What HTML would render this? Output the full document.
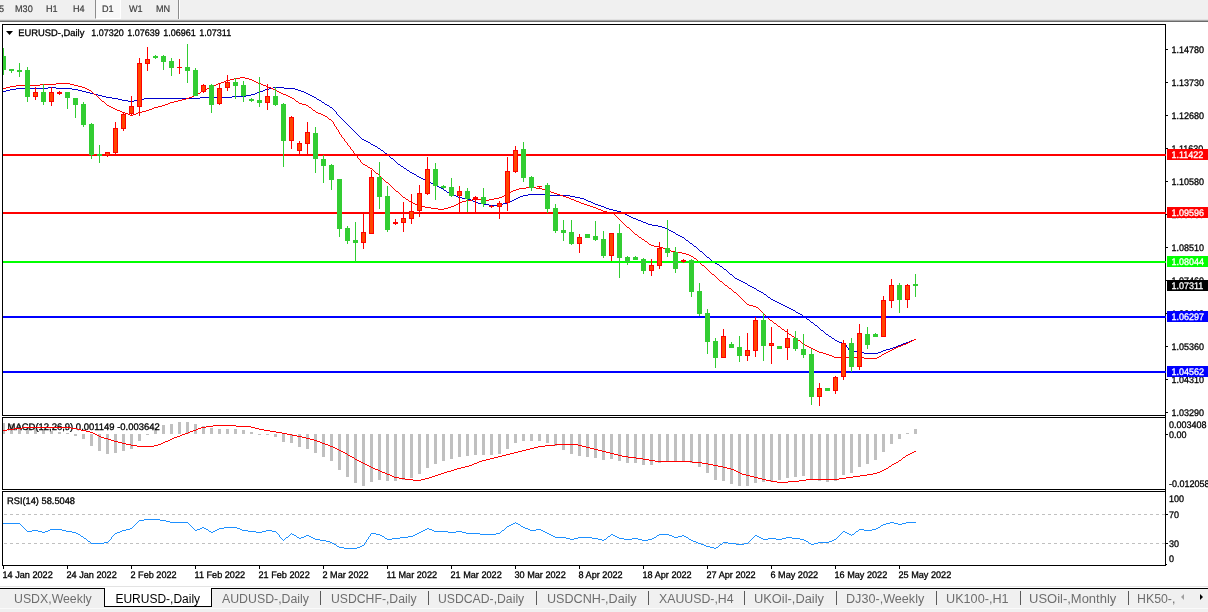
<!DOCTYPE html>
<html><head><meta charset="utf-8"><title>EURUSD-,Daily</title>
<style>
html,body{margin:0;padding:0;background:#fff;}
body{width:1208px;height:612px;overflow:hidden;position:relative;font-family:"Liberation Sans",sans-serif;}
#toolbar{position:absolute;left:0;top:0;width:1208px;height:20px;background:#f0f0f0;}
#toolbar .e0{position:absolute;left:0;top:19px;width:100%;height:1px;background:#e2e2e2;}
#toolbar .e1{position:absolute;left:0;top:20px;width:100%;height:1px;background:#a8a8a8;}
#toolbar .e2{position:absolute;left:0;top:21px;width:100%;height:1px;background:#6a6a6a;}
#toolbar span{position:absolute;top:4px;font-size:9.5px;line-height:11px;color:#404040;white-space:nowrap;transform-origin:0 0;transform:scaleX(0.958);text-rendering:geometricPrecision;-webkit-text-stroke:0.2px #404040;}
#toolbar i{position:absolute;top:0;width:1px;height:19px;background:#8c8c8c;}
#toolbar b{position:absolute;left:95px;top:0;width:24px;height:18px;background:#f8f8f8;border-left:1px solid #8c8c8c;border-right:1px solid #fff;border-bottom:1px solid #fff;box-sizing:content-box;}
svg{position:absolute;left:0;top:0;}
svg text{font-family:"Liberation Sans",sans-serif;stroke:currentColor;stroke-width:0.3px;text-rendering:geometricPrecision;}
#tabs{position:absolute;left:0;top:586px;width:1208px;height:26px;background:#f0f0f0;overflow:hidden;}
#tabs .l0{position:absolute;left:0;top:0;width:100%;height:1px;background:#e3e3e3;}
#tabs .l1{position:absolute;left:0;top:1px;width:100%;height:1px;background:#fff;}
#tabs .l2{position:absolute;left:0;top:2px;width:100%;height:1px;background:#000;}
#tabs .l3{position:absolute;left:0;top:22px;width:100%;height:1px;background:#fafafa;}
.tab{position:absolute;top:6px;font-size:12px;line-height:14px;color:#6e6e6e;white-space:nowrap;transform-origin:0 0;}
.tab.act{color:#000;}
#act{position:absolute;left:104px;top:2px;width:106px;height:18px;background:#fff;border:1px solid #000;border-top:none;}
.sep{position:absolute;top:5px;width:1px;height:14px;background:#5a5a5a;}
.arr{position:absolute;top:8px;width:0;height:0;border-top:3.5px solid transparent;border-bottom:3.5px solid transparent;}
</style></head><body>
<div id="toolbar"><b></b><span style="left:-1.5px">5</span><span style="left:14.6px">M30</span><span style="left:45.5px">H1</span><span style="left:72.8px">H4</span><span style="left:101.5px">D1</span><span style="left:129px">W1</span><span style="left:155.6px">MN</span><i style="left:178px"></i><i style="left:179px;background:#fff"></i><div class="e0"></div><div class="e1"></div><div class="e2"></div></div>
<svg width="1208" height="612" viewBox="0 0 1208 612" shape-rendering="crispEdges">
<rect x="2" y="24" width="1164" height="1" fill="#000"/>
<rect x="2" y="24" width="1" height="392" fill="#000"/>
<rect x="2" y="415" width="1164" height="1" fill="#000"/>
<rect x="1165" y="24" width="1" height="542" fill="#000"/>
<rect x="2" y="417" width="1164" height="1" fill="#000"/>
<rect x="2" y="417" width="1" height="73" fill="#000"/>
<rect x="2" y="489" width="1164" height="1" fill="#000"/>
<rect x="2" y="491" width="1164" height="1" fill="#000"/>
<rect x="2" y="491" width="1" height="75" fill="#000"/>
<rect x="2" y="565" width="1164" height="1" fill="#000"/>
<defs><clipPath id="cm"><rect x="3" y="25" width="1163" height="390"/></clipPath><clipPath id="cd"><rect x="3" y="418" width="1162" height="71"/></clipPath><clipPath id="cr"><rect x="3" y="492" width="1162" height="73"/></clipPath></defs>
<g clip-path="url(#cm)">
<path d="M48 87h8v1h-8zM273 87h11v1h-11zM16 88h32v1h-32zM56 88h16v1h-16zM269 88h4v1h-4zM284 88h11v1h-11zM10 89h6v1h-6zM72 89h6v1h-6zM265 89h4v1h-4zM295 89h3v1h-3zM6 90h4v1h-4zM78 90h4v1h-4zM263 90h2v1h-2zM298 90h3v1h-3zM3 91h3v1h-3zM82 91h4v1h-4zM260 91h3v1h-3zM301 91h3v1h-3zM86 92h4v1h-4zM257 92h3v1h-3zM304 92h2v1h-2zM90 93h4v1h-4zM255 93h2v1h-2zM306 93h2v1h-2zM94 94h4v1h-4zM251 94h4v1h-4zM308 94h2v1h-2zM98 95h4v1h-4zM246 95h5v1h-5zM310 95h2v1h-2zM102 96h4v1h-4zM232 96h14v1h-14zM312 96h2v1h-2zM106 97h6v1h-6zM200 97h32v1h-32zM314 97h2v1h-2zM112 98h6v1h-6zM144 98h56v1h-56zM316 98h1v1h-1zM118 99h4v1h-4zM138 99h6v1h-6zM317 99h2v1h-2zM122 100h6v1h-6zM134 100h4v1h-4zM319 100h2v1h-2zM128 101h6v1h-6zM321 101h1v1h-1zM322 102h2v1h-2zM324 103h1v1h-1zM325 104h2v1h-2zM327 105h2v1h-2zM329 106h1v1h-1zM330 107h2v1h-2zM332 108h1v1h-1zM333 109h1v1h-1zM334 110h1v1h-1zM335 111h1v1h-1zM336 112h1v1h-1zM336 113h1v1h-1zM337 114h1v1h-1zM338 115h1v1h-1zM339 116h1v1h-1zM340 117h1v1h-1zM341 118h1v1h-1zM342 119h1v1h-1zM343 120h1v1h-1zM344 121h1v1h-1zM345 122h1v1h-1zM346 123h1v1h-1zM347 124h1v1h-1zM348 125h1v1h-1zM349 126h1v1h-1zM350 127h1v1h-1zM351 128h1v1h-1zM352 129h1v1h-1zM353 130h1v1h-1zM354 131h1v1h-1zM355 132h1v1h-1zM356 133h1v1h-1zM357 134h1v1h-1zM358 135h1v1h-1zM359 136h1v1h-1zM360 137h1v1h-1zM361 138h1v1h-1zM362 139h2v1h-2zM364 140h2v1h-2zM366 141h2v1h-2zM368 142h2v1h-2zM370 143h1v1h-1zM371 144h2v1h-2zM373 145h2v1h-2zM375 146h2v1h-2zM377 147h1v1h-1zM378 148h2v1h-2zM380 149h1v1h-1zM381 150h2v1h-2zM383 151h1v1h-1zM384 152h1v1h-1zM385 153h2v1h-2zM387 154h1v1h-1zM388 155h1v1h-1zM389 156h1v1h-1zM390 157h1v1h-1zM391 158h2v1h-2zM393 159h1v1h-1zM394 160h1v1h-1zM395 161h1v1h-1zM396 162h1v1h-1zM397 163h1v1h-1zM398 164h2v1h-2zM400 165h1v1h-1zM401 166h2v1h-2zM403 167h1v1h-1zM404 168h2v1h-2zM406 169h1v1h-1zM407 170h2v1h-2zM409 171h1v1h-1zM410 172h2v1h-2zM412 173h2v1h-2zM414 174h2v1h-2zM416 175h1v1h-1zM417 176h2v1h-2zM419 177h2v1h-2zM421 178h2v1h-2zM423 179h2v1h-2zM425 180h2v1h-2zM427 181h2v1h-2zM429 182h2v1h-2zM431 183h2v1h-2zM433 184h2v1h-2zM435 185h2v1h-2zM437 186h2v1h-2zM439 187h2v1h-2zM441 188h2v1h-2zM443 189h1v1h-1zM444 190h2v1h-2zM446 191h1v1h-1zM447 192h2v1h-2zM449 193h2v1h-2zM451 194h2v1h-2zM528 194h21v1h-21zM453 195h3v1h-3zM523 195h5v1h-5zM549 195h21v1h-21zM456 196h2v1h-2zM520 196h3v1h-3zM570 196h5v1h-5zM458 197h4v1h-4zM518 197h2v1h-2zM575 197h5v1h-5zM462 198h5v1h-5zM516 198h2v1h-2zM580 198h4v1h-4zM467 199h4v1h-4zM514 199h2v1h-2zM584 199h2v1h-2zM471 200h2v1h-2zM512 200h2v1h-2zM586 200h2v1h-2zM473 201h3v1h-3zM510 201h2v1h-2zM588 201h3v1h-3zM476 202h2v1h-2zM507 202h3v1h-3zM591 202h2v1h-2zM478 203h5v1h-5zM503 203h4v1h-4zM593 203h2v1h-2zM483 204h6v1h-6zM497 204h6v1h-6zM595 204h3v1h-3zM489 205h8v1h-8zM598 205h3v1h-3zM601 206h3v1h-3zM604 207h2v1h-2zM606 208h3v1h-3zM609 209h4v1h-4zM613 210h4v1h-4zM617 211h4v1h-4zM621 212h2v1h-2zM623 213h2v1h-2zM625 214h2v1h-2zM627 215h2v1h-2zM629 216h2v1h-2zM631 217h2v1h-2zM633 218h3v1h-3zM636 219h2v1h-2zM638 220h3v1h-3zM641 221h2v1h-2zM643 222h3v1h-3zM646 223h2v1h-2zM648 224h4v1h-4zM652 225h6v1h-6zM658 226h4v1h-4zM662 227h3v1h-3zM665 228h2v1h-2zM667 229h2v1h-2zM669 230h2v1h-2zM671 231h2v1h-2zM673 232h2v1h-2zM675 233h1v1h-1zM676 234h2v1h-2zM678 235h2v1h-2zM680 236h2v1h-2zM682 237h2v1h-2zM684 238h1v1h-1zM685 239h1v1h-1zM686 240h2v1h-2zM688 241h1v1h-1zM689 242h1v1h-1zM690 243h2v1h-2zM692 244h1v1h-1zM693 245h1v1h-1zM694 246h2v1h-2zM696 247h1v1h-1zM697 248h1v1h-1zM698 249h1v1h-1zM699 250h1v1h-1zM700 251h2v1h-2zM702 252h1v1h-1zM703 253h1v1h-1zM704 254h1v1h-1zM705 255h1v1h-1zM706 256h1v1h-1zM707 257h2v1h-2zM709 258h1v1h-1zM710 259h1v1h-1zM711 260h1v1h-1zM712 261h2v1h-2zM714 262h1v1h-1zM715 263h2v1h-2zM717 264h2v1h-2zM719 265h1v1h-1zM720 266h2v1h-2zM722 267h1v1h-1zM723 268h1v1h-1zM724 269h2v1h-2zM726 270h1v1h-1zM727 271h1v1h-1zM728 272h1v1h-1zM729 273h1v1h-1zM730 274h2v1h-2zM732 275h1v1h-1zM733 276h1v1h-1zM734 277h1v1h-1zM735 278h2v1h-2zM737 279h2v1h-2zM739 280h2v1h-2zM741 281h2v1h-2zM743 282h2v1h-2zM745 283h2v1h-2zM747 284h1v1h-1zM748 285h2v1h-2zM750 286h2v1h-2zM752 287h2v1h-2zM754 288h2v1h-2zM756 289h1v1h-1zM757 290h2v1h-2zM759 291h2v1h-2zM761 292h2v1h-2zM763 293h1v1h-1zM764 294h2v1h-2zM766 295h1v1h-1zM767 296h1v1h-1zM768 297h2v1h-2zM770 298h1v1h-1zM771 299h2v1h-2zM773 300h2v1h-2zM775 301h2v1h-2zM777 302h2v1h-2zM779 303h2v1h-2zM781 304h2v1h-2zM783 305h2v1h-2zM785 306h2v1h-2zM787 307h2v1h-2zM789 308h2v1h-2zM791 309h2v1h-2zM793 310h2v1h-2zM795 311h1v1h-1zM796 312h2v1h-2zM798 313h2v1h-2zM800 314h2v1h-2zM802 315h1v1h-1zM803 316h2v1h-2zM805 317h1v1h-1zM806 318h1v1h-1zM807 319h2v1h-2zM809 320h1v1h-1zM810 321h1v1h-1zM811 322h2v1h-2zM813 323h1v1h-1zM814 324h1v1h-1zM815 325h2v1h-2zM817 326h1v1h-1zM818 327h1v1h-1zM819 328h1v1h-1zM820 329h1v1h-1zM821 330h2v1h-2zM823 331h1v1h-1zM824 332h1v1h-1zM825 333h1v1h-1zM826 334h2v1h-2zM828 335h1v1h-1zM829 336h2v1h-2zM831 337h1v1h-1zM832 338h2v1h-2zM834 339h1v1h-1zM914 339h2v1h-2zM835 340h2v1h-2zM911 340h3v1h-3zM837 341h2v1h-2zM909 341h2v1h-2zM839 342h3v1h-3zM906 342h3v1h-3zM842 343h2v1h-2zM903 343h3v1h-3zM844 344h2v1h-2zM901 344h2v1h-2zM846 345h1v1h-1zM898 345h3v1h-3zM846 346h1v1h-1zM896 346h2v1h-2zM847 347h1v1h-1zM893 347h3v1h-3zM848 348h1v1h-1zM890 348h3v1h-3zM848 349h1v1h-1zM886 349h4v1h-4zM849 350h2v1h-2zM883 350h3v1h-3zM851 351h10v1h-10zM881 351h2v1h-2zM861 352h3v1h-3zM878 352h3v1h-3zM864 353h14v1h-14z" fill="#0000cd"/>
<path d="M240 77h5v1h-5zM234 78h6v1h-6zM245 78h4v1h-4zM230 79h4v1h-4zM249 79h3v1h-3zM226 80h4v1h-4zM252 80h2v1h-2zM224 81h2v1h-2zM254 81h2v1h-2zM221 82h3v1h-3zM256 82h2v1h-2zM56 83h14v1h-14zM218 83h3v1h-3zM258 83h3v1h-3zM40 84h16v1h-16zM70 84h4v1h-4zM216 84h2v1h-2zM261 84h2v1h-2zM16 85h24v1h-24zM74 85h4v1h-4zM213 85h3v1h-3zM263 85h3v1h-3zM10 86h6v1h-6zM78 86h4v1h-4zM211 86h2v1h-2zM266 86h2v1h-2zM6 87h4v1h-4zM82 87h3v1h-3zM209 87h2v1h-2zM268 87h3v1h-3zM3 88h3v1h-3zM85 88h2v1h-2zM207 88h2v1h-2zM271 88h2v1h-2zM87 89h2v1h-2zM205 89h2v1h-2zM273 89h2v1h-2zM89 90h2v1h-2zM203 90h2v1h-2zM275 90h2v1h-2zM91 91h1v1h-1zM201 91h2v1h-2zM277 91h2v1h-2zM92 92h1v1h-1zM200 92h1v1h-1zM279 92h2v1h-2zM93 93h1v1h-1zM198 93h2v1h-2zM281 93h2v1h-2zM94 94h2v1h-2zM196 94h2v1h-2zM283 94h3v1h-3zM96 95h1v1h-1zM194 95h2v1h-2zM286 95h2v1h-2zM97 96h1v1h-1zM192 96h2v1h-2zM288 96h2v1h-2zM98 97h1v1h-1zM189 97h3v1h-3zM290 97h2v1h-2zM99 98h1v1h-1zM186 98h3v1h-3zM292 98h2v1h-2zM100 99h1v1h-1zM182 99h4v1h-4zM294 99h1v1h-1zM101 100h1v1h-1zM178 100h4v1h-4zM295 100h1v1h-1zM102 101h2v1h-2zM174 101h4v1h-4zM296 101h2v1h-2zM104 102h1v1h-1zM170 102h4v1h-4zM298 102h1v1h-1zM105 103h1v1h-1zM168 103h2v1h-2zM299 103h3v1h-3zM106 104h1v1h-1zM165 104h3v1h-3zM302 104h4v1h-4zM107 105h2v1h-2zM162 105h3v1h-3zM306 105h2v1h-2zM109 106h2v1h-2zM158 106h4v1h-4zM308 106h1v1h-1zM111 107h2v1h-2zM154 107h4v1h-4zM309 107h2v1h-2zM113 108h2v1h-2zM152 108h2v1h-2zM311 108h1v1h-1zM115 109h2v1h-2zM149 109h3v1h-3zM312 109h1v1h-1zM117 110h3v1h-3zM146 110h3v1h-3zM313 110h2v1h-2zM120 111h2v1h-2zM142 111h4v1h-4zM315 111h1v1h-1zM122 112h3v1h-3zM138 112h4v1h-4zM316 112h2v1h-2zM125 113h3v1h-3zM136 113h2v1h-2zM318 113h3v1h-3zM128 114h2v1h-2zM133 114h3v1h-3zM321 114h2v1h-2zM130 115h3v1h-3zM323 115h2v1h-2zM325 116h2v1h-2zM327 117h1v1h-1zM328 118h1v1h-1zM329 119h2v1h-2zM331 120h1v1h-1zM332 121h1v1h-1zM333 122h1v1h-1zM333 123h1v1h-1zM334 124h1v1h-1zM334 125h1v1h-1zM335 126h1v1h-1zM336 127h1v1h-1zM336 128h1v1h-1zM337 129h1v1h-1zM338 130h1v1h-1zM338 131h1v1h-1zM339 132h1v1h-1zM339 133h1v1h-1zM340 134h1v1h-1zM341 135h1v1h-1zM341 136h1v1h-1zM342 137h1v1h-1zM343 138h1v1h-1zM344 139h1v1h-1zM344 140h1v1h-1zM345 141h1v1h-1zM346 142h1v1h-1zM347 143h1v1h-1zM347 144h1v1h-1zM348 145h1v1h-1zM349 146h1v1h-1zM350 147h1v1h-1zM350 148h1v1h-1zM351 149h1v1h-1zM352 150h1v1h-1zM353 151h1v1h-1zM353 152h1v1h-1zM354 153h1v1h-1zM355 154h1v1h-1zM356 155h1v1h-1zM357 156h1v1h-1zM357 157h1v1h-1zM358 158h1v1h-1zM359 159h1v1h-1zM360 160h1v1h-1zM360 161h1v1h-1zM361 162h1v1h-1zM362 163h1v1h-1zM363 164h2v1h-2zM365 165h2v1h-2zM367 166h1v1h-1zM368 167h2v1h-2zM370 168h2v1h-2zM372 169h1v1h-1zM373 170h1v1h-1zM374 171h1v1h-1zM375 172h1v1h-1zM376 173h2v1h-2zM378 174h1v1h-1zM379 175h1v1h-1zM380 176h1v1h-1zM381 177h1v1h-1zM382 178h1v1h-1zM383 179h1v1h-1zM384 180h1v1h-1zM385 181h1v1h-1zM386 182h2v1h-2zM388 183h1v1h-1zM389 184h1v1h-1zM390 185h1v1h-1zM391 186h1v1h-1zM392 187h1v1h-1zM526 187h10v1h-10zM393 188h1v1h-1zM519 188h7v1h-7zM536 188h6v1h-6zM394 189h1v1h-1zM516 189h3v1h-3zM542 189h3v1h-3zM395 190h1v1h-1zM513 190h3v1h-3zM545 190h3v1h-3zM396 191h2v1h-2zM511 191h2v1h-2zM548 191h3v1h-3zM398 192h1v1h-1zM509 192h2v1h-2zM551 192h3v1h-3zM399 193h1v1h-1zM507 193h2v1h-2zM554 193h3v1h-3zM400 194h1v1h-1zM506 194h1v1h-1zM557 194h3v1h-3zM401 195h1v1h-1zM504 195h2v1h-2zM560 195h3v1h-3zM402 196h1v1h-1zM502 196h2v1h-2zM563 196h3v1h-3zM403 197h2v1h-2zM499 197h3v1h-3zM566 197h3v1h-3zM405 198h1v1h-1zM494 198h5v1h-5zM569 198h2v1h-2zM406 199h2v1h-2zM472 199h9v1h-9zM489 199h5v1h-5zM571 199h3v1h-3zM408 200h1v1h-1zM466 200h6v1h-6zM481 200h8v1h-8zM574 200h2v1h-2zM409 201h2v1h-2zM462 201h4v1h-4zM576 201h3v1h-3zM411 202h2v1h-2zM460 202h2v1h-2zM579 202h2v1h-2zM413 203h2v1h-2zM458 203h2v1h-2zM581 203h3v1h-3zM415 204h3v1h-3zM456 204h2v1h-2zM584 204h3v1h-3zM418 205h2v1h-2zM454 205h2v1h-2zM587 205h3v1h-3zM420 206h5v1h-5zM451 206h3v1h-3zM590 206h3v1h-3zM425 207h6v1h-6zM448 207h3v1h-3zM593 207h3v1h-3zM431 208h7v1h-7zM444 208h4v1h-4zM596 208h2v1h-2zM438 209h6v1h-6zM598 209h3v1h-3zM601 210h2v1h-2zM603 211h4v1h-4zM607 212h4v1h-4zM611 213h3v1h-3zM614 214h1v1h-1zM615 215h1v1h-1zM616 216h1v1h-1zM617 217h1v1h-1zM618 218h1v1h-1zM619 219h1v1h-1zM620 220h1v1h-1zM621 221h1v1h-1zM622 222h1v1h-1zM623 223h1v1h-1zM624 224h1v1h-1zM625 225h1v1h-1zM626 226h1v1h-1zM627 227h2v1h-2zM629 228h1v1h-1zM630 229h1v1h-1zM631 230h1v1h-1zM632 231h1v1h-1zM633 232h1v1h-1zM634 233h1v1h-1zM635 234h2v1h-2zM637 235h1v1h-1zM638 236h1v1h-1zM639 237h2v1h-2zM641 238h1v1h-1zM642 239h2v1h-2zM644 240h1v1h-1zM645 241h2v1h-2zM647 242h1v1h-1zM648 243h1v1h-1zM649 244h2v1h-2zM651 245h3v1h-3zM654 246h5v1h-5zM659 247h4v1h-4zM663 248h3v1h-3zM666 249h2v1h-2zM668 250h3v1h-3zM671 251h5v1h-5zM676 252h6v1h-6zM682 253h4v1h-4zM686 254h3v1h-3zM689 255h2v1h-2zM691 256h2v1h-2zM693 257h1v1h-1zM694 258h2v1h-2zM696 259h1v1h-1zM697 260h1v1h-1zM698 261h1v1h-1zM699 262h1v1h-1zM700 263h1v1h-1zM701 264h1v1h-1zM702 265h2v1h-2zM704 266h1v1h-1zM705 267h1v1h-1zM706 268h1v1h-1zM707 269h1v1h-1zM708 270h1v1h-1zM709 271h1v1h-1zM710 272h1v1h-1zM711 273h1v1h-1zM712 274h2v1h-2zM714 275h1v1h-1zM715 276h1v1h-1zM716 277h1v1h-1zM717 278h1v1h-1zM718 279h1v1h-1zM719 280h1v1h-1zM720 281h2v1h-2zM722 282h1v1h-1zM723 283h1v1h-1zM724 284h1v1h-1zM725 285h2v1h-2zM727 286h1v1h-1zM728 287h1v1h-1zM729 288h2v1h-2zM731 289h1v1h-1zM732 290h1v1h-1zM733 291h1v1h-1zM734 292h2v1h-2zM736 293h1v1h-1zM737 294h1v1h-1zM738 295h1v1h-1zM739 296h1v1h-1zM740 297h1v1h-1zM741 298h1v1h-1zM742 299h1v1h-1zM743 300h1v1h-1zM744 301h1v1h-1zM745 302h1v1h-1zM746 303h1v1h-1zM747 304h2v1h-2zM749 305h4v1h-4zM753 306h3v1h-3zM756 307h2v1h-2zM758 308h1v1h-1zM759 309h1v1h-1zM760 310h1v1h-1zM761 311h1v1h-1zM762 312h1v1h-1zM763 313h1v1h-1zM764 314h1v1h-1zM765 315h1v1h-1zM766 316h1v1h-1zM767 317h1v1h-1zM768 318h1v1h-1zM769 319h1v1h-1zM770 320h2v1h-2zM772 321h1v1h-1zM773 322h1v1h-1zM774 323h2v1h-2zM776 324h1v1h-1zM777 325h1v1h-1zM778 326h2v1h-2zM780 327h1v1h-1zM781 328h1v1h-1zM782 329h2v1h-2zM784 330h1v1h-1zM785 331h2v1h-2zM787 332h1v1h-1zM788 333h1v1h-1zM789 334h2v1h-2zM791 335h1v1h-1zM792 336h2v1h-2zM794 337h1v1h-1zM795 338h2v1h-2zM797 339h1v1h-1zM914 339h2v1h-2zM798 340h2v1h-2zM912 340h2v1h-2zM800 341h1v1h-1zM910 341h2v1h-2zM801 342h1v1h-1zM908 342h2v1h-2zM802 343h2v1h-2zM906 343h2v1h-2zM804 344h1v1h-1zM903 344h3v1h-3zM805 345h2v1h-2zM901 345h2v1h-2zM807 346h2v1h-2zM898 346h3v1h-3zM809 347h2v1h-2zM896 347h2v1h-2zM811 348h2v1h-2zM894 348h2v1h-2zM813 349h2v1h-2zM892 349h2v1h-2zM815 350h2v1h-2zM890 350h2v1h-2zM817 351h2v1h-2zM888 351h2v1h-2zM819 352h4v1h-4zM886 352h2v1h-2zM823 353h3v1h-3zM884 353h2v1h-2zM826 354h3v1h-3zM882 354h2v1h-2zM829 355h3v1h-3zM881 355h1v1h-1zM832 356h2v1h-2zM879 356h2v1h-2zM834 357h30v1h-30zM877 357h2v1h-2zM864 358h13v1h-13z" fill="#ff0000"/>
<rect x="3" y="154" width="1163" height="2" fill="#ff0000"/>
<rect x="3" y="212" width="1163" height="2" fill="#ff0000"/>
<rect x="3" y="261" width="1163" height="2" fill="#00ff00"/>
<rect x="3" y="316" width="1163" height="2" fill="#0000ff"/>
<rect x="3" y="371" width="1163" height="2" fill="#0000ff"/>
<rect x="3" y="48" width="1" height="27" fill="#32cd32"/>
<rect x="1" y="56" width="5" height="14" fill="#32cd32"/>
<rect x="11" y="69" width="1" height="4" fill="#32cd32"/>
<rect x="9" y="69" width="5" height="2" fill="#32cd32"/>
<rect x="19" y="63" width="1" height="14" fill="#32cd32"/>
<rect x="17" y="70" width="5" height="2" fill="#32cd32"/>
<rect x="27" y="67" width="1" height="35" fill="#32cd32"/>
<rect x="25" y="70" width="5" height="27" fill="#32cd32"/>
<rect x="35" y="87" width="1" height="13" fill="#ff0000"/>
<rect x="33" y="92" width="5" height="5" fill="#ff0000"/>
<rect x="34" y="93" width="3" height="3" fill="#ff4500"/>
<rect x="43" y="84" width="1" height="21" fill="#32cd32"/>
<rect x="41" y="92" width="5" height="10" fill="#32cd32"/>
<rect x="51" y="87" width="1" height="19" fill="#ff0000"/>
<rect x="49" y="92" width="5" height="10" fill="#ff0000"/>
<rect x="50" y="93" width="3" height="8" fill="#ff4500"/>
<rect x="59" y="91" width="1" height="4" fill="#ff0000"/>
<rect x="57" y="92" width="5" height="2" fill="#ff0000"/>
<rect x="67" y="92" width="1" height="17" fill="#32cd32"/>
<rect x="65" y="92" width="5" height="6" fill="#32cd32"/>
<rect x="75" y="98" width="1" height="20" fill="#32cd32"/>
<rect x="73" y="98" width="5" height="7" fill="#32cd32"/>
<rect x="83" y="102" width="1" height="25" fill="#32cd32"/>
<rect x="81" y="104" width="5" height="21" fill="#32cd32"/>
<rect x="91" y="123" width="1" height="36" fill="#32cd32"/>
<rect x="89" y="124" width="5" height="31" fill="#32cd32"/>
<rect x="99" y="145" width="1" height="18" fill="#32cd32"/>
<rect x="97" y="154" width="5" height="2" fill="#32cd32"/>
<rect x="107" y="152" width="1" height="5" fill="#ff0000"/>
<rect x="105" y="152" width="5" height="4" fill="#ff0000"/>
<rect x="106" y="153" width="3" height="2" fill="#ff4500"/>
<rect x="115" y="122" width="1" height="33" fill="#ff0000"/>
<rect x="113" y="128" width="5" height="25" fill="#ff0000"/>
<rect x="114" y="129" width="3" height="23" fill="#ff4500"/>
<rect x="123" y="112" width="1" height="19" fill="#ff0000"/>
<rect x="121" y="114" width="5" height="15" fill="#ff0000"/>
<rect x="122" y="115" width="3" height="13" fill="#ff4500"/>
<rect x="131" y="96" width="1" height="20" fill="#ff0000"/>
<rect x="129" y="106" width="5" height="8" fill="#ff0000"/>
<rect x="130" y="107" width="3" height="6" fill="#ff4500"/>
<rect x="139" y="58" width="1" height="58" fill="#ff0000"/>
<rect x="137" y="63" width="5" height="44" fill="#ff0000"/>
<rect x="138" y="64" width="3" height="42" fill="#ff4500"/>
<rect x="147" y="47" width="1" height="24" fill="#ff0000"/>
<rect x="145" y="59" width="5" height="5" fill="#ff0000"/>
<rect x="146" y="60" width="3" height="3" fill="#ff4500"/>
<rect x="155" y="55" width="1" height="4" fill="#32cd32"/>
<rect x="153" y="56" width="5" height="2" fill="#32cd32"/>
<rect x="163" y="55" width="1" height="15" fill="#32cd32"/>
<rect x="161" y="56" width="5" height="6" fill="#32cd32"/>
<rect x="171" y="58" width="1" height="18" fill="#32cd32"/>
<rect x="169" y="61" width="5" height="7" fill="#32cd32"/>
<rect x="179" y="59" width="1" height="15" fill="#ff0000"/>
<rect x="177" y="67" width="5" height="1" fill="#ff0000"/>
<rect x="187" y="44" width="1" height="39" fill="#32cd32"/>
<rect x="185" y="67" width="5" height="4" fill="#32cd32"/>
<rect x="195" y="68" width="1" height="28" fill="#32cd32"/>
<rect x="193" y="70" width="5" height="26" fill="#32cd32"/>
<rect x="203" y="84" width="1" height="9" fill="#ff0000"/>
<rect x="201" y="85" width="5" height="7" fill="#ff0000"/>
<rect x="202" y="86" width="3" height="5" fill="#ff4500"/>
<rect x="211" y="84" width="1" height="29" fill="#32cd32"/>
<rect x="209" y="85" width="5" height="20" fill="#32cd32"/>
<rect x="219" y="84" width="1" height="21" fill="#ff0000"/>
<rect x="217" y="88" width="5" height="16" fill="#ff0000"/>
<rect x="218" y="89" width="3" height="14" fill="#ff4500"/>
<rect x="227" y="75" width="1" height="16" fill="#ff0000"/>
<rect x="225" y="82" width="5" height="6" fill="#ff0000"/>
<rect x="226" y="83" width="3" height="4" fill="#ff4500"/>
<rect x="235" y="78" width="1" height="21" fill="#32cd32"/>
<rect x="233" y="82" width="5" height="4" fill="#32cd32"/>
<rect x="243" y="81" width="1" height="21" fill="#32cd32"/>
<rect x="241" y="85" width="5" height="11" fill="#32cd32"/>
<rect x="251" y="98" width="1" height="4" fill="#32cd32"/>
<rect x="249" y="99" width="5" height="2" fill="#32cd32"/>
<rect x="259" y="77" width="1" height="30" fill="#32cd32"/>
<rect x="257" y="100" width="5" height="3" fill="#32cd32"/>
<rect x="267" y="84" width="1" height="26" fill="#ff0000"/>
<rect x="265" y="96" width="5" height="7" fill="#ff0000"/>
<rect x="266" y="97" width="3" height="5" fill="#ff4500"/>
<rect x="275" y="87" width="1" height="19" fill="#32cd32"/>
<rect x="273" y="96" width="5" height="9" fill="#32cd32"/>
<rect x="283" y="103" width="1" height="64" fill="#32cd32"/>
<rect x="281" y="104" width="5" height="37" fill="#32cd32"/>
<rect x="291" y="116" width="1" height="33" fill="#ff0000"/>
<rect x="289" y="117" width="5" height="24" fill="#ff0000"/>
<rect x="290" y="118" width="3" height="22" fill="#ff4500"/>
<rect x="299" y="141" width="1" height="13" fill="#ff0000"/>
<rect x="297" y="143" width="5" height="8" fill="#ff0000"/>
<rect x="298" y="144" width="3" height="6" fill="#ff4500"/>
<rect x="307" y="122" width="1" height="32" fill="#ff0000"/>
<rect x="305" y="132" width="5" height="12" fill="#ff0000"/>
<rect x="306" y="133" width="3" height="10" fill="#ff4500"/>
<rect x="315" y="127" width="1" height="46" fill="#32cd32"/>
<rect x="313" y="133" width="5" height="26" fill="#32cd32"/>
<rect x="323" y="155" width="1" height="28" fill="#32cd32"/>
<rect x="321" y="159" width="5" height="7" fill="#32cd32"/>
<rect x="331" y="164" width="1" height="26" fill="#32cd32"/>
<rect x="329" y="165" width="5" height="15" fill="#32cd32"/>
<rect x="339" y="179" width="1" height="58" fill="#32cd32"/>
<rect x="337" y="179" width="5" height="50" fill="#32cd32"/>
<rect x="347" y="226" width="1" height="18" fill="#32cd32"/>
<rect x="345" y="228" width="5" height="13" fill="#32cd32"/>
<rect x="355" y="222" width="1" height="40" fill="#32cd32"/>
<rect x="353" y="240" width="5" height="3" fill="#32cd32"/>
<rect x="363" y="213" width="1" height="36" fill="#ff0000"/>
<rect x="361" y="232" width="5" height="11" fill="#ff0000"/>
<rect x="362" y="233" width="3" height="9" fill="#ff4500"/>
<rect x="371" y="170" width="1" height="64" fill="#ff0000"/>
<rect x="369" y="177" width="5" height="57" fill="#ff0000"/>
<rect x="370" y="178" width="3" height="55" fill="#ff4500"/>
<rect x="379" y="162" width="1" height="47" fill="#32cd32"/>
<rect x="377" y="177" width="5" height="20" fill="#32cd32"/>
<rect x="387" y="186" width="1" height="46" fill="#32cd32"/>
<rect x="385" y="196" width="5" height="34" fill="#32cd32"/>
<rect x="395" y="219" width="1" height="6" fill="#ff0000"/>
<rect x="393" y="222" width="5" height="2" fill="#ff0000"/>
<rect x="403" y="202" width="1" height="30" fill="#ff0000"/>
<rect x="401" y="218" width="5" height="5" fill="#ff0000"/>
<rect x="402" y="219" width="3" height="3" fill="#ff4500"/>
<rect x="411" y="194" width="1" height="30" fill="#ff0000"/>
<rect x="409" y="211" width="5" height="8" fill="#ff0000"/>
<rect x="410" y="212" width="3" height="6" fill="#ff4500"/>
<rect x="419" y="185" width="1" height="32" fill="#ff0000"/>
<rect x="417" y="193" width="5" height="18" fill="#ff0000"/>
<rect x="418" y="194" width="3" height="16" fill="#ff4500"/>
<rect x="427" y="157" width="1" height="38" fill="#ff0000"/>
<rect x="425" y="169" width="5" height="25" fill="#ff0000"/>
<rect x="426" y="170" width="3" height="23" fill="#ff4500"/>
<rect x="435" y="163" width="1" height="37" fill="#32cd32"/>
<rect x="433" y="169" width="5" height="17" fill="#32cd32"/>
<rect x="443" y="185" width="1" height="4" fill="#32cd32"/>
<rect x="441" y="186" width="5" height="2" fill="#32cd32"/>
<rect x="451" y="178" width="1" height="19" fill="#32cd32"/>
<rect x="449" y="187" width="5" height="9" fill="#32cd32"/>
<rect x="459" y="186" width="1" height="26" fill="#ff0000"/>
<rect x="457" y="191" width="5" height="5" fill="#ff0000"/>
<rect x="458" y="192" width="3" height="3" fill="#ff4500"/>
<rect x="467" y="188" width="1" height="24" fill="#32cd32"/>
<rect x="465" y="191" width="5" height="8" fill="#32cd32"/>
<rect x="475" y="196" width="1" height="16" fill="#ff0000"/>
<rect x="473" y="197" width="5" height="2" fill="#ff0000"/>
<rect x="483" y="188" width="1" height="19" fill="#32cd32"/>
<rect x="481" y="197" width="5" height="7" fill="#32cd32"/>
<rect x="491" y="205" width="1" height="3" fill="#ff0000"/>
<rect x="489" y="206" width="5" height="1" fill="#ff0000"/>
<rect x="499" y="201" width="1" height="18" fill="#ff0000"/>
<rect x="497" y="203" width="5" height="4" fill="#ff0000"/>
<rect x="498" y="204" width="3" height="2" fill="#ff4500"/>
<rect x="507" y="157" width="1" height="54" fill="#ff0000"/>
<rect x="505" y="171" width="5" height="32" fill="#ff0000"/>
<rect x="506" y="172" width="3" height="30" fill="#ff4500"/>
<rect x="515" y="146" width="1" height="27" fill="#ff0000"/>
<rect x="513" y="150" width="5" height="22" fill="#ff0000"/>
<rect x="514" y="151" width="3" height="20" fill="#ff4500"/>
<rect x="523" y="142" width="1" height="40" fill="#32cd32"/>
<rect x="521" y="149" width="5" height="29" fill="#32cd32"/>
<rect x="531" y="176" width="1" height="15" fill="#32cd32"/>
<rect x="529" y="177" width="5" height="11" fill="#32cd32"/>
<rect x="539" y="186" width="1" height="2" fill="#ff0000"/>
<rect x="537" y="186" width="5" height="1" fill="#ff0000"/>
<rect x="547" y="183" width="1" height="30" fill="#32cd32"/>
<rect x="545" y="185" width="5" height="24" fill="#32cd32"/>
<rect x="555" y="204" width="1" height="29" fill="#32cd32"/>
<rect x="553" y="208" width="5" height="23" fill="#32cd32"/>
<rect x="563" y="220" width="1" height="21" fill="#32cd32"/>
<rect x="561" y="230" width="5" height="3" fill="#32cd32"/>
<rect x="571" y="220" width="1" height="25" fill="#32cd32"/>
<rect x="569" y="232" width="5" height="12" fill="#32cd32"/>
<rect x="579" y="234" width="1" height="19" fill="#ff0000"/>
<rect x="577" y="237" width="5" height="7" fill="#ff0000"/>
<rect x="578" y="238" width="3" height="5" fill="#ff4500"/>
<rect x="587" y="234" width="1" height="4" fill="#32cd32"/>
<rect x="585" y="234" width="5" height="4" fill="#32cd32"/>
<rect x="595" y="221" width="1" height="20" fill="#32cd32"/>
<rect x="593" y="236" width="5" height="4" fill="#32cd32"/>
<rect x="603" y="231" width="1" height="27" fill="#32cd32"/>
<rect x="601" y="239" width="5" height="17" fill="#32cd32"/>
<rect x="611" y="233" width="1" height="28" fill="#ff0000"/>
<rect x="609" y="233" width="5" height="23" fill="#ff0000"/>
<rect x="610" y="234" width="3" height="21" fill="#ff4500"/>
<rect x="619" y="224" width="1" height="54" fill="#32cd32"/>
<rect x="617" y="233" width="5" height="25" fill="#32cd32"/>
<rect x="627" y="256" width="1" height="9" fill="#32cd32"/>
<rect x="625" y="257" width="5" height="5" fill="#32cd32"/>
<rect x="635" y="256" width="1" height="4" fill="#32cd32"/>
<rect x="633" y="257" width="5" height="3" fill="#32cd32"/>
<rect x="643" y="258" width="1" height="16" fill="#32cd32"/>
<rect x="641" y="259" width="5" height="12" fill="#32cd32"/>
<rect x="651" y="259" width="1" height="17" fill="#ff0000"/>
<rect x="649" y="265" width="5" height="6" fill="#ff0000"/>
<rect x="650" y="266" width="3" height="4" fill="#ff4500"/>
<rect x="659" y="242" width="1" height="27" fill="#ff0000"/>
<rect x="657" y="248" width="5" height="18" fill="#ff0000"/>
<rect x="658" y="249" width="3" height="16" fill="#ff4500"/>
<rect x="667" y="220" width="1" height="37" fill="#32cd32"/>
<rect x="665" y="248" width="5" height="5" fill="#32cd32"/>
<rect x="675" y="247" width="1" height="26" fill="#32cd32"/>
<rect x="673" y="252" width="5" height="17" fill="#32cd32"/>
<rect x="683" y="259" width="1" height="4" fill="#ff0000"/>
<rect x="681" y="260" width="5" height="2" fill="#ff0000"/>
<rect x="691" y="259" width="1" height="38" fill="#32cd32"/>
<rect x="689" y="260" width="5" height="32" fill="#32cd32"/>
<rect x="699" y="283" width="1" height="33" fill="#32cd32"/>
<rect x="697" y="291" width="5" height="23" fill="#32cd32"/>
<rect x="707" y="309" width="1" height="45" fill="#32cd32"/>
<rect x="705" y="313" width="5" height="29" fill="#32cd32"/>
<rect x="715" y="338" width="1" height="30" fill="#32cd32"/>
<rect x="713" y="341" width="5" height="17" fill="#32cd32"/>
<rect x="723" y="329" width="1" height="29" fill="#ff0000"/>
<rect x="721" y="336" width="5" height="22" fill="#ff0000"/>
<rect x="722" y="337" width="3" height="20" fill="#ff4500"/>
<rect x="731" y="342" width="1" height="6" fill="#32cd32"/>
<rect x="729" y="344" width="5" height="4" fill="#32cd32"/>
<rect x="739" y="336" width="1" height="26" fill="#32cd32"/>
<rect x="737" y="347" width="5" height="9" fill="#32cd32"/>
<rect x="747" y="333" width="1" height="28" fill="#ff0000"/>
<rect x="745" y="350" width="5" height="6" fill="#ff0000"/>
<rect x="746" y="351" width="3" height="4" fill="#ff4500"/>
<rect x="755" y="317" width="1" height="40" fill="#ff0000"/>
<rect x="753" y="320" width="5" height="31" fill="#ff0000"/>
<rect x="754" y="321" width="3" height="29" fill="#ff4500"/>
<rect x="763" y="313" width="1" height="48" fill="#32cd32"/>
<rect x="761" y="320" width="5" height="26" fill="#32cd32"/>
<rect x="771" y="327" width="1" height="37" fill="#ff0000"/>
<rect x="769" y="343" width="5" height="3" fill="#ff0000"/>
<rect x="770" y="344" width="3" height="1" fill="#ff4500"/>
<rect x="779" y="346" width="1" height="3" fill="#32cd32"/>
<rect x="777" y="346" width="5" height="3" fill="#32cd32"/>
<rect x="787" y="329" width="1" height="31" fill="#ff0000"/>
<rect x="785" y="338" width="5" height="10" fill="#ff0000"/>
<rect x="786" y="339" width="3" height="8" fill="#ff4500"/>
<rect x="795" y="331" width="1" height="20" fill="#32cd32"/>
<rect x="793" y="338" width="5" height="11" fill="#32cd32"/>
<rect x="803" y="334" width="1" height="24" fill="#32cd32"/>
<rect x="801" y="349" width="5" height="6" fill="#32cd32"/>
<rect x="811" y="349" width="1" height="56" fill="#32cd32"/>
<rect x="809" y="354" width="5" height="43" fill="#32cd32"/>
<rect x="819" y="383" width="1" height="23" fill="#ff0000"/>
<rect x="817" y="388" width="5" height="9" fill="#ff0000"/>
<rect x="818" y="389" width="3" height="7" fill="#ff4500"/>
<rect x="827" y="388" width="1" height="3" fill="#32cd32"/>
<rect x="825" y="388" width="5" height="3" fill="#32cd32"/>
<rect x="835" y="376" width="1" height="18" fill="#ff0000"/>
<rect x="833" y="377" width="5" height="14" fill="#ff0000"/>
<rect x="834" y="378" width="3" height="12" fill="#ff4500"/>
<rect x="843" y="340" width="1" height="40" fill="#ff0000"/>
<rect x="841" y="343" width="5" height="34" fill="#ff0000"/>
<rect x="842" y="344" width="3" height="32" fill="#ff4500"/>
<rect x="851" y="338" width="1" height="34" fill="#32cd32"/>
<rect x="849" y="343" width="5" height="24" fill="#32cd32"/>
<rect x="859" y="324" width="1" height="46" fill="#ff0000"/>
<rect x="857" y="333" width="5" height="34" fill="#ff0000"/>
<rect x="858" y="334" width="3" height="32" fill="#ff4500"/>
<rect x="867" y="327" width="1" height="22" fill="#32cd32"/>
<rect x="865" y="334" width="5" height="11" fill="#32cd32"/>
<rect x="875" y="333" width="1" height="4" fill="#32cd32"/>
<rect x="873" y="334" width="5" height="3" fill="#32cd32"/>
<rect x="883" y="296" width="1" height="41" fill="#ff0000"/>
<rect x="881" y="300" width="5" height="37" fill="#ff0000"/>
<rect x="882" y="301" width="3" height="35" fill="#ff4500"/>
<rect x="891" y="279" width="1" height="29" fill="#ff0000"/>
<rect x="889" y="285" width="5" height="16" fill="#ff0000"/>
<rect x="890" y="286" width="3" height="14" fill="#ff4500"/>
<rect x="899" y="283" width="1" height="30" fill="#32cd32"/>
<rect x="897" y="285" width="5" height="15" fill="#32cd32"/>
<rect x="907" y="284" width="1" height="24" fill="#ff0000"/>
<rect x="905" y="285" width="5" height="15" fill="#ff0000"/>
<rect x="906" y="286" width="3" height="13" fill="#ff4500"/>
<rect x="915" y="274" width="1" height="23" fill="#32cd32"/>
<rect x="913" y="284" width="5" height="2" fill="#32cd32"/>
</g>
<g clip-path="url(#cd)">
<rect x="2" y="423" width="3" height="11" fill="#c0c0c0"/>
<rect x="10" y="424" width="3" height="10" fill="#c0c0c0"/>
<rect x="18" y="425" width="3" height="9" fill="#c0c0c0"/>
<rect x="26" y="427" width="3" height="7" fill="#c0c0c0"/>
<rect x="34" y="428" width="3" height="6" fill="#c0c0c0"/>
<rect x="42" y="430" width="3" height="4" fill="#c0c0c0"/>
<rect x="50" y="431" width="3" height="3" fill="#c0c0c0"/>
<rect x="58" y="432" width="3" height="2" fill="#c0c0c0"/>
<rect x="66" y="433" width="3" height="1" fill="#c0c0c0"/>
<rect x="74" y="434" width="3" height="2" fill="#c0c0c0"/>
<rect x="82" y="434" width="3" height="5" fill="#c0c0c0"/>
<rect x="90" y="434" width="3" height="12" fill="#c0c0c0"/>
<rect x="98" y="434" width="3" height="17" fill="#c0c0c0"/>
<rect x="106" y="434" width="3" height="20" fill="#c0c0c0"/>
<rect x="114" y="434" width="3" height="19" fill="#c0c0c0"/>
<rect x="122" y="434" width="3" height="17" fill="#c0c0c0"/>
<rect x="130" y="434" width="3" height="15" fill="#c0c0c0"/>
<rect x="138" y="434" width="3" height="7" fill="#c0c0c0"/>
<rect x="146" y="434" width="3" height="1" fill="#c0c0c0"/>
<rect x="154" y="429" width="3" height="5" fill="#c0c0c0"/>
<rect x="162" y="425" width="3" height="9" fill="#c0c0c0"/>
<rect x="170" y="424" width="3" height="10" fill="#c0c0c0"/>
<rect x="178" y="422" width="3" height="12" fill="#c0c0c0"/>
<rect x="186" y="422" width="3" height="12" fill="#c0c0c0"/>
<rect x="194" y="424" width="3" height="10" fill="#c0c0c0"/>
<rect x="202" y="426" width="3" height="8" fill="#c0c0c0"/>
<rect x="210" y="428" width="3" height="6" fill="#c0c0c0"/>
<rect x="218" y="429" width="3" height="5" fill="#c0c0c0"/>
<rect x="226" y="429" width="3" height="5" fill="#c0c0c0"/>
<rect x="234" y="429" width="3" height="5" fill="#c0c0c0"/>
<rect x="242" y="430" width="3" height="4" fill="#c0c0c0"/>
<rect x="250" y="432" width="3" height="2" fill="#c0c0c0"/>
<rect x="258" y="434" width="3" height="1" fill="#c0c0c0"/>
<rect x="266" y="434" width="3" height="1" fill="#c0c0c0"/>
<rect x="274" y="434" width="3" height="3" fill="#c0c0c0"/>
<rect x="282" y="434" width="3" height="8" fill="#c0c0c0"/>
<rect x="290" y="434" width="3" height="9" fill="#c0c0c0"/>
<rect x="298" y="434" width="3" height="13" fill="#c0c0c0"/>
<rect x="306" y="434" width="3" height="15" fill="#c0c0c0"/>
<rect x="314" y="434" width="3" height="19" fill="#c0c0c0"/>
<rect x="322" y="434" width="3" height="23" fill="#c0c0c0"/>
<rect x="330" y="434" width="3" height="27" fill="#c0c0c0"/>
<rect x="338" y="434" width="3" height="36" fill="#c0c0c0"/>
<rect x="346" y="434" width="3" height="43" fill="#c0c0c0"/>
<rect x="354" y="434" width="3" height="49" fill="#c0c0c0"/>
<rect x="362" y="434" width="3" height="52" fill="#c0c0c0"/>
<rect x="370" y="434" width="3" height="48" fill="#c0c0c0"/>
<rect x="378" y="434" width="3" height="46" fill="#c0c0c0"/>
<rect x="386" y="434" width="3" height="47" fill="#c0c0c0"/>
<rect x="394" y="434" width="3" height="47" fill="#c0c0c0"/>
<rect x="402" y="434" width="3" height="46" fill="#c0c0c0"/>
<rect x="410" y="434" width="3" height="44" fill="#c0c0c0"/>
<rect x="418" y="434" width="3" height="40" fill="#c0c0c0"/>
<rect x="426" y="434" width="3" height="34" fill="#c0c0c0"/>
<rect x="434" y="434" width="3" height="30" fill="#c0c0c0"/>
<rect x="442" y="434" width="3" height="27" fill="#c0c0c0"/>
<rect x="450" y="434" width="3" height="25" fill="#c0c0c0"/>
<rect x="458" y="434" width="3" height="23" fill="#c0c0c0"/>
<rect x="466" y="434" width="3" height="22" fill="#c0c0c0"/>
<rect x="474" y="434" width="3" height="21" fill="#c0c0c0"/>
<rect x="482" y="434" width="3" height="21" fill="#c0c0c0"/>
<rect x="490" y="434" width="3" height="21" fill="#c0c0c0"/>
<rect x="498" y="434" width="3" height="20" fill="#c0c0c0"/>
<rect x="506" y="434" width="3" height="15" fill="#c0c0c0"/>
<rect x="514" y="434" width="3" height="9" fill="#c0c0c0"/>
<rect x="522" y="434" width="3" height="7" fill="#c0c0c0"/>
<rect x="530" y="434" width="3" height="7" fill="#c0c0c0"/>
<rect x="538" y="434" width="3" height="7" fill="#c0c0c0"/>
<rect x="546" y="434" width="3" height="9" fill="#c0c0c0"/>
<rect x="554" y="434" width="3" height="12" fill="#c0c0c0"/>
<rect x="562" y="434" width="3" height="16" fill="#c0c0c0"/>
<rect x="570" y="434" width="3" height="20" fill="#c0c0c0"/>
<rect x="578" y="434" width="3" height="22" fill="#c0c0c0"/>
<rect x="586" y="434" width="3" height="23" fill="#c0c0c0"/>
<rect x="594" y="434" width="3" height="24" fill="#c0c0c0"/>
<rect x="602" y="434" width="3" height="26" fill="#c0c0c0"/>
<rect x="610" y="434" width="3" height="25" fill="#c0c0c0"/>
<rect x="618" y="434" width="3" height="27" fill="#c0c0c0"/>
<rect x="626" y="434" width="3" height="29" fill="#c0c0c0"/>
<rect x="634" y="434" width="3" height="29" fill="#c0c0c0"/>
<rect x="642" y="434" width="3" height="31" fill="#c0c0c0"/>
<rect x="650" y="434" width="3" height="31" fill="#c0c0c0"/>
<rect x="658" y="434" width="3" height="29" fill="#c0c0c0"/>
<rect x="666" y="434" width="3" height="28" fill="#c0c0c0"/>
<rect x="674" y="434" width="3" height="28" fill="#c0c0c0"/>
<rect x="682" y="434" width="3" height="28" fill="#c0c0c0"/>
<rect x="690" y="434" width="3" height="29" fill="#c0c0c0"/>
<rect x="698" y="434" width="3" height="33" fill="#c0c0c0"/>
<rect x="706" y="434" width="3" height="39" fill="#c0c0c0"/>
<rect x="714" y="434" width="3" height="46" fill="#c0c0c0"/>
<rect x="722" y="434" width="3" height="47" fill="#c0c0c0"/>
<rect x="730" y="434" width="3" height="50" fill="#c0c0c0"/>
<rect x="738" y="434" width="3" height="52" fill="#c0c0c0"/>
<rect x="746" y="434" width="3" height="52" fill="#c0c0c0"/>
<rect x="754" y="434" width="3" height="49" fill="#c0c0c0"/>
<rect x="762" y="434" width="3" height="48" fill="#c0c0c0"/>
<rect x="770" y="434" width="3" height="48" fill="#c0c0c0"/>
<rect x="778" y="434" width="3" height="46" fill="#c0c0c0"/>
<rect x="786" y="434" width="3" height="44" fill="#c0c0c0"/>
<rect x="794" y="434" width="3" height="43" fill="#c0c0c0"/>
<rect x="802" y="434" width="3" height="42" fill="#c0c0c0"/>
<rect x="810" y="434" width="3" height="46" fill="#c0c0c0"/>
<rect x="818" y="434" width="3" height="47" fill="#c0c0c0"/>
<rect x="826" y="434" width="3" height="48" fill="#c0c0c0"/>
<rect x="834" y="434" width="3" height="47" fill="#c0c0c0"/>
<rect x="842" y="434" width="3" height="41" fill="#c0c0c0"/>
<rect x="850" y="434" width="3" height="39" fill="#c0c0c0"/>
<rect x="858" y="434" width="3" height="33" fill="#c0c0c0"/>
<rect x="866" y="434" width="3" height="30" fill="#c0c0c0"/>
<rect x="874" y="434" width="3" height="26" fill="#c0c0c0"/>
<rect x="882" y="434" width="3" height="18" fill="#c0c0c0"/>
<rect x="890" y="434" width="3" height="10" fill="#c0c0c0"/>
<rect x="898" y="434" width="3" height="5" fill="#c0c0c0"/>
<rect x="906" y="433" width="3" height="1" fill="#c0c0c0"/>
<rect x="914" y="429" width="3" height="5" fill="#c0c0c0"/>
<text transform="translate(7.6 430.3) scale(0.9947 1)" font-size="9.5" fill="#000" color="#000">MACD(12,26,9) 0.001149 -0.003642</text>
<path d="M213 425h23v1h-23zM206 426h7v1h-7zM236 426h15v1h-15zM22 427h49v1h-49zM201 427h5v1h-5zM251 427h4v1h-4zM14 428h8v1h-8zM71 428h6v1h-6zM198 428h3v1h-3zM255 428h4v1h-4zM7 429h7v1h-7zM77 429h4v1h-4zM196 429h2v1h-2zM259 429h5v1h-5zM3 430h4v1h-4zM81 430h5v1h-5zM193 430h3v1h-3zM264 430h6v1h-6zM86 431h4v1h-4zM190 431h3v1h-3zM270 431h6v1h-6zM90 432h3v1h-3zM188 432h2v1h-2zM276 432h6v1h-6zM93 433h2v1h-2zM185 433h3v1h-3zM282 433h5v1h-5zM95 434h2v1h-2zM182 434h3v1h-3zM287 434h5v1h-5zM97 435h2v1h-2zM180 435h2v1h-2zM292 435h5v1h-5zM99 436h2v1h-2zM177 436h3v1h-3zM297 436h5v1h-5zM101 437h3v1h-3zM174 437h3v1h-3zM302 437h4v1h-4zM104 438h4v1h-4zM172 438h2v1h-2zM306 438h4v1h-4zM108 439h3v1h-3zM170 439h2v1h-2zM310 439h4v1h-4zM111 440h3v1h-3zM168 440h2v1h-2zM314 440h3v1h-3zM114 441h4v1h-4zM165 441h3v1h-3zM317 441h3v1h-3zM118 442h4v1h-4zM163 442h2v1h-2zM320 442h2v1h-2zM122 443h4v1h-4zM161 443h2v1h-2zM322 443h3v1h-3zM126 444h5v1h-5zM158 444h3v1h-3zM325 444h3v1h-3zM555 444h23v1h-23zM131 445h6v1h-6zM154 445h4v1h-4zM328 445h2v1h-2zM545 445h10v1h-10zM578 445h4v1h-4zM137 446h17v1h-17zM330 446h3v1h-3zM538 446h7v1h-7zM582 446h4v1h-4zM333 447h2v1h-2zM534 447h4v1h-4zM586 447h4v1h-4zM335 448h2v1h-2zM530 448h4v1h-4zM590 448h4v1h-4zM337 449h2v1h-2zM526 449h4v1h-4zM594 449h4v1h-4zM339 450h2v1h-2zM522 450h4v1h-4zM598 450h4v1h-4zM341 451h2v1h-2zM518 451h4v1h-4zM602 451h4v1h-4zM914 451h2v1h-2zM343 452h2v1h-2zM514 452h4v1h-4zM606 452h4v1h-4zM912 452h2v1h-2zM345 453h2v1h-2zM510 453h4v1h-4zM610 453h4v1h-4zM910 453h2v1h-2zM347 454h1v1h-1zM506 454h4v1h-4zM614 454h4v1h-4zM908 454h2v1h-2zM348 455h2v1h-2zM502 455h4v1h-4zM618 455h4v1h-4zM906 455h2v1h-2zM350 456h2v1h-2zM498 456h4v1h-4zM622 456h6v1h-6zM905 456h1v1h-1zM352 457h2v1h-2zM494 457h4v1h-4zM628 457h8v1h-8zM903 457h2v1h-2zM354 458h1v1h-1zM490 458h4v1h-4zM636 458h7v1h-7zM902 458h1v1h-1zM355 459h2v1h-2zM486 459h4v1h-4zM643 459h6v1h-6zM901 459h1v1h-1zM357 460h2v1h-2zM482 460h4v1h-4zM649 460h6v1h-6zM899 460h2v1h-2zM359 461h2v1h-2zM479 461h3v1h-3zM655 461h37v1h-37zM898 461h1v1h-1zM361 462h2v1h-2zM477 462h2v1h-2zM692 462h10v1h-10zM896 462h2v1h-2zM363 463h2v1h-2zM474 463h3v1h-3zM702 463h6v1h-6zM894 463h2v1h-2zM365 464h2v1h-2zM472 464h2v1h-2zM708 464h5v1h-5zM892 464h2v1h-2zM367 465h2v1h-2zM469 465h3v1h-3zM713 465h5v1h-5zM891 465h1v1h-1zM369 466h2v1h-2zM465 466h4v1h-4zM718 466h5v1h-5zM889 466h2v1h-2zM371 467h2v1h-2zM461 467h4v1h-4zM723 467h4v1h-4zM888 467h1v1h-1zM373 468h2v1h-2zM457 468h4v1h-4zM727 468h4v1h-4zM886 468h2v1h-2zM375 469h3v1h-3zM454 469h3v1h-3zM731 469h3v1h-3zM884 469h2v1h-2zM378 470h2v1h-2zM451 470h3v1h-3zM734 470h2v1h-2zM882 470h2v1h-2zM380 471h2v1h-2zM447 471h4v1h-4zM736 471h2v1h-2zM880 471h2v1h-2zM382 472h3v1h-3zM444 472h3v1h-3zM738 472h2v1h-2zM877 472h3v1h-3zM385 473h2v1h-2zM441 473h3v1h-3zM740 473h2v1h-2zM873 473h4v1h-4zM387 474h3v1h-3zM438 474h3v1h-3zM742 474h4v1h-4zM867 474h6v1h-6zM390 475h2v1h-2zM435 475h3v1h-3zM746 475h4v1h-4zM860 475h7v1h-7zM392 476h2v1h-2zM432 476h3v1h-3zM750 476h4v1h-4zM853 476h7v1h-7zM394 477h5v1h-5zM429 477h3v1h-3zM754 477h4v1h-4zM846 477h7v1h-7zM399 478h6v1h-6zM425 478h4v1h-4zM758 478h4v1h-4zM839 478h7v1h-7zM405 479h8v1h-8zM421 479h4v1h-4zM762 479h4v1h-4zM806 479h33v1h-33zM413 480h8v1h-8zM766 480h5v1h-5zM799 480h7v1h-7zM771 481h6v1h-6zM788 481h11v1h-11zM777 482h11v1h-11z" fill="#ff0000"/>
</g>
<g clip-path="url(#cr)">
<line x1="4" y1="514.5" x2="1165" y2="514.5" stroke="#c0c0c0" stroke-width="1" stroke-dasharray="3 3"/>
<line x1="4" y1="543.5" x2="1165" y2="543.5" stroke="#c0c0c0" stroke-width="1" stroke-dasharray="3 3"/>
<path d="M144 519h16v1h-16zM139 520h5v1h-5zM160 520h6v1h-6zM138 521h1v1h-1zM166 521h4v1h-4zM137 522h1v1h-1zM170 522h18v1h-18zM515 522h1v1h-1zM890 522h4v1h-4zM906 522h10v1h-10zM3 523h17v1h-17zM136 523h1v1h-1zM188 523h1v1h-1zM513 523h2v1h-2zM516 523h2v1h-2zM886 523h4v1h-4zM894 523h4v1h-4zM902 523h4v1h-4zM20 524h1v1h-1zM135 524h1v1h-1zM189 524h1v1h-1zM511 524h2v1h-2zM518 524h2v1h-2zM883 524h3v1h-3zM898 524h4v1h-4zM21 525h1v1h-1zM134 525h1v1h-1zM190 525h1v1h-1zM509 525h2v1h-2zM520 525h1v1h-1zM881 525h2v1h-2zM22 526h1v1h-1zM133 526h1v1h-1zM191 526h1v1h-1zM507 526h2v1h-2zM521 526h2v1h-2zM880 526h1v1h-1zM23 527h1v1h-1zM132 527h1v1h-1zM192 527h1v1h-1zM202 527h2v1h-2zM224 527h13v1h-13zM506 527h1v1h-1zM523 527h2v1h-2zM878 527h2v1h-2zM24 528h1v1h-1zM130 528h2v1h-2zM193 528h1v1h-1zM200 528h2v1h-2zM204 528h2v1h-2zM219 528h5v1h-5zM237 528h3v1h-3zM427 528h2v1h-2zM505 528h1v1h-1zM525 528h3v1h-3zM876 528h2v1h-2zM25 529h1v1h-1zM50 529h12v1h-12zM126 529h4v1h-4zM194 529h1v1h-1zM197 529h3v1h-3zM206 529h2v1h-2zM217 529h2v1h-2zM240 529h2v1h-2zM425 529h2v1h-2zM429 529h3v1h-3zM504 529h1v1h-1zM528 529h2v1h-2zM536 529h5v1h-5zM859 529h5v1h-5zM872 529h4v1h-4zM26 530h1v1h-1zM32 530h6v1h-6zM48 530h2v1h-2zM62 530h4v1h-4zM122 530h4v1h-4zM195 530h2v1h-2zM208 530h1v1h-1zM215 530h2v1h-2zM242 530h6v1h-6zM266 530h6v1h-6zM423 530h2v1h-2zM432 530h2v1h-2zM502 530h2v1h-2zM530 530h6v1h-6zM541 530h2v1h-2zM858 530h1v1h-1zM864 530h8v1h-8zM27 531h5v1h-5zM38 531h4v1h-4zM45 531h3v1h-3zM66 531h6v1h-6zM120 531h2v1h-2zM209 531h2v1h-2zM213 531h2v1h-2zM248 531h8v1h-8zM262 531h4v1h-4zM272 531h4v1h-4zM421 531h2v1h-2zM434 531h14v1h-14zM456 531h6v1h-6zM501 531h1v1h-1zM543 531h2v1h-2zM843 531h2v1h-2zM856 531h2v1h-2zM42 532h3v1h-3zM72 532h4v1h-4zM117 532h3v1h-3zM211 532h2v1h-2zM256 532h6v1h-6zM276 532h1v1h-1zM419 532h2v1h-2zM448 532h8v1h-8zM462 532h4v1h-4zM500 532h1v1h-1zM545 532h2v1h-2zM842 532h1v1h-1zM845 532h2v1h-2zM855 532h1v1h-1zM76 533h2v1h-2zM115 533h2v1h-2zM277 533h1v1h-1zM291 533h1v1h-1zM371 533h5v1h-5zM417 533h2v1h-2zM466 533h14v1h-14zM496 533h4v1h-4zM547 533h2v1h-2zM841 533h1v1h-1zM847 533h2v1h-2zM854 533h1v1h-1zM78 534h2v1h-2zM114 534h1v1h-1zM278 534h1v1h-1zM290 534h1v1h-1zM292 534h2v1h-2zM370 534h1v1h-1zM376 534h4v1h-4zM415 534h2v1h-2zM480 534h16v1h-16zM549 534h2v1h-2zM611 534h2v1h-2zM659 534h10v1h-10zM840 534h1v1h-1zM849 534h2v1h-2zM852 534h2v1h-2zM80 535h1v1h-1zM113 535h1v1h-1zM279 535h1v1h-1zM289 535h1v1h-1zM294 535h2v1h-2zM306 535h3v1h-3zM370 535h1v1h-1zM380 535h2v1h-2zM413 535h2v1h-2zM551 535h2v1h-2zM610 535h1v1h-1zM613 535h2v1h-2zM657 535h2v1h-2zM669 535h3v1h-3zM682 535h2v1h-2zM755 535h2v1h-2zM839 535h1v1h-1zM851 535h1v1h-1zM81 536h2v1h-2zM112 536h1v1h-1zM279 536h1v1h-1zM288 536h1v1h-1zM296 536h1v1h-1zM304 536h2v1h-2zM309 536h2v1h-2zM369 536h1v1h-1zM382 536h2v1h-2zM408 536h5v1h-5zM553 536h2v1h-2zM608 536h2v1h-2zM615 536h2v1h-2zM656 536h1v1h-1zM672 536h2v1h-2zM678 536h4v1h-4zM684 536h2v1h-2zM754 536h1v1h-1zM757 536h2v1h-2zM838 536h1v1h-1zM83 537h1v1h-1zM111 537h1v1h-1zM280 537h1v1h-1zM286 537h2v1h-2zM297 537h2v1h-2zM301 537h3v1h-3zM311 537h2v1h-2zM368 537h1v1h-1zM384 537h1v1h-1zM400 537h8v1h-8zM555 537h11v1h-11zM578 537h14v1h-14zM607 537h1v1h-1zM617 537h2v1h-2zM654 537h2v1h-2zM674 537h4v1h-4zM686 537h2v1h-2zM753 537h1v1h-1zM759 537h2v1h-2zM786 537h6v1h-6zM837 537h1v1h-1zM84 538h2v1h-2zM111 538h1v1h-1zM281 538h1v1h-1zM285 538h1v1h-1zM299 538h2v1h-2zM313 538h2v1h-2zM368 538h1v1h-1zM385 538h2v1h-2zM392 538h8v1h-8zM566 538h4v1h-4zM574 538h4v1h-4zM592 538h6v1h-6zM606 538h1v1h-1zM619 538h5v1h-5zM632 538h6v1h-6zM652 538h2v1h-2zM688 538h1v1h-1zM752 538h1v1h-1zM761 538h2v1h-2zM768 538h8v1h-8zM782 538h4v1h-4zM792 538h8v1h-8zM836 538h1v1h-1zM86 539h1v1h-1zM110 539h1v1h-1zM282 539h1v1h-1zM284 539h1v1h-1zM315 539h5v1h-5zM367 539h1v1h-1zM387 539h5v1h-5zM570 539h4v1h-4zM598 539h4v1h-4zM604 539h2v1h-2zM624 539h8v1h-8zM638 539h4v1h-4zM648 539h4v1h-4zM689 539h2v1h-2zM751 539h1v1h-1zM763 539h5v1h-5zM776 539h6v1h-6zM800 539h4v1h-4zM834 539h2v1h-2zM87 540h1v1h-1zM109 540h1v1h-1zM283 540h1v1h-1zM320 540h6v1h-6zM366 540h1v1h-1zM602 540h2v1h-2zM642 540h6v1h-6zM691 540h2v1h-2zM750 540h1v1h-1zM804 540h2v1h-2zM832 540h2v1h-2zM88 541h2v1h-2zM108 541h1v1h-1zM326 541h4v1h-4zM366 541h1v1h-1zM693 541h3v1h-3zM749 541h1v1h-1zM806 541h2v1h-2zM829 541h3v1h-3zM90 542h1v1h-1zM104 542h4v1h-4zM330 542h2v1h-2zM365 542h1v1h-1zM696 542h2v1h-2zM723 542h5v1h-5zM748 542h1v1h-1zM808 542h1v1h-1zM818 542h11v1h-11zM91 543h13v1h-13zM332 543h2v1h-2zM364 543h1v1h-1zM698 543h3v1h-3zM722 543h1v1h-1zM728 543h8v1h-8zM744 543h4v1h-4zM809 543h2v1h-2zM814 543h4v1h-4zM334 544h2v1h-2zM364 544h1v1h-1zM701 544h3v1h-3zM720 544h2v1h-2zM736 544h8v1h-8zM811 544h3v1h-3zM336 545h1v1h-1zM362 545h2v1h-2zM704 545h2v1h-2zM719 545h1v1h-1zM337 546h2v1h-2zM360 546h2v1h-2zM706 546h4v1h-4zM718 546h1v1h-1zM339 547h5v1h-5zM357 547h3v1h-3zM710 547h4v1h-4zM716 547h2v1h-2zM344 548h13v1h-13zM714 548h2v1h-2z" fill="#1e90ff"/>
</g>
<rect x="1166" y="49" width="2" height="1" fill="#000"/>
<text transform="translate(1171.5 53) scale(0.9474 1)" font-size="9.5" fill="#000" color="#000">1.14780</text>
<rect x="1166" y="82" width="2" height="1" fill="#000"/>
<text transform="translate(1171.5 86) scale(0.9474 1)" font-size="9.5" fill="#000" color="#000">1.13730</text>
<rect x="1166" y="115" width="2" height="1" fill="#000"/>
<text transform="translate(1171.5 119) scale(0.9474 1)" font-size="9.5" fill="#000" color="#000">1.12680</text>
<rect x="1166" y="148" width="2" height="1" fill="#000"/>
<text transform="translate(1171.5 152) scale(0.9474 1)" font-size="9.5" fill="#000" color="#000">1.11630</text>
<rect x="1166" y="181" width="2" height="1" fill="#000"/>
<text transform="translate(1171.5 185) scale(0.9474 1)" font-size="9.5" fill="#000" color="#000">1.10580</text>
<rect x="1166" y="214" width="2" height="1" fill="#000"/>
<text transform="translate(1171.5 218) scale(0.9474 1)" font-size="9.5" fill="#000" color="#000">1.09530</text>
<rect x="1166" y="247" width="2" height="1" fill="#000"/>
<text transform="translate(1171.5 251) scale(0.9474 1)" font-size="9.5" fill="#000" color="#000">1.08510</text>
<rect x="1166" y="280" width="2" height="1" fill="#000"/>
<text transform="translate(1171.5 284) scale(0.9474 1)" font-size="9.5" fill="#000" color="#000">1.07460</text>
<rect x="1166" y="313" width="2" height="1" fill="#000"/>
<text transform="translate(1171.5 317) scale(0.9474 1)" font-size="9.5" fill="#000" color="#000">1.06410</text>
<rect x="1166" y="346" width="2" height="1" fill="#000"/>
<text transform="translate(1171.5 350) scale(0.9474 1)" font-size="9.5" fill="#000" color="#000">1.05360</text>
<rect x="1166" y="379" width="2" height="1" fill="#000"/>
<text transform="translate(1171.5 383) scale(0.9474 1)" font-size="9.5" fill="#000" color="#000">1.04310</text>
<rect x="1166" y="412" width="2" height="1" fill="#000"/>
<text transform="translate(1171.5 416) scale(0.9474 1)" font-size="9.5" fill="#000" color="#000">1.03290</text>
<rect x="1167" y="149" width="41" height="11" fill="#ff0000"/>
<text transform="translate(1171.5 158) scale(0.9474 1)" font-size="9.5" fill="#fff" color="#fff">1.11422</text>
<rect x="1167" y="207" width="41" height="11" fill="#ff0000"/>
<text transform="translate(1171.5 216) scale(0.9474 1)" font-size="9.5" fill="#fff" color="#fff">1.09596</text>
<rect x="1167" y="256" width="41" height="11" fill="#00ff00"/>
<text transform="translate(1171.5 265) scale(0.9474 1)" font-size="9.5" fill="#fff" color="#fff">1.08044</text>
<rect x="1167" y="311" width="41" height="11" fill="#0000ff"/>
<text transform="translate(1171.5 320) scale(0.9474 1)" font-size="9.5" fill="#fff" color="#fff">1.06297</text>
<rect x="1167" y="366" width="41" height="11" fill="#0000ff"/>
<text transform="translate(1171.5 375) scale(0.9474 1)" font-size="9.5" fill="#fff" color="#fff">1.04562</text>
<rect x="1167" y="280" width="41" height="11" fill="#000"/>
<text transform="translate(1171.5 289) scale(0.9474 1)" font-size="9.5" fill="#fff" color="#fff">1.07311</text>
<text transform="translate(1169 428) scale(0.9474 1)" font-size="9.5" fill="#000" color="#000">0.003408</text>
<rect x="1166" y="434" width="2" height="1" fill="#000"/>
<text transform="translate(1169 438) scale(0.9474 1)" font-size="9.5" fill="#000" color="#000">0.00</text>
<text transform="translate(1169 486.5) scale(0.9474 1)" font-size="9.5" fill="#000" color="#000">-0.012058</text>
<text transform="translate(1169 502) scale(0.9474 1)" font-size="9.5" fill="#000" color="#000">100</text>
<rect x="1166" y="514" width="2" height="1" fill="#000"/>
<text transform="translate(1169 518) scale(0.9474 1)" font-size="9.5" fill="#000" color="#000">70</text>
<rect x="1166" y="543" width="2" height="1" fill="#000"/>
<text transform="translate(1169 547) scale(0.9474 1)" font-size="9.5" fill="#000" color="#000">30</text>
<rect x="1166" y="564" width="1" height="1" fill="#000"/>
<text transform="translate(1169 562) scale(0.9474 1)" font-size="9.5" fill="#000" color="#000">0</text>
<rect x="3" y="566" width="1" height="3" fill="#000"/>
<text transform="translate(2.5 577.6) scale(0.9600 1)" font-size="9.5" fill="#000" color="#000">14 Jan 2022</text>
<rect x="67" y="566" width="1" height="3" fill="#000"/>
<text transform="translate(66.5 577.6) scale(0.9600 1)" font-size="9.5" fill="#000" color="#000">24 Jan 2022</text>
<rect x="131" y="566" width="1" height="3" fill="#000"/>
<text transform="translate(130.5 577.6) scale(0.9600 1)" font-size="9.5" fill="#000" color="#000">2 Feb 2022</text>
<rect x="195" y="566" width="1" height="3" fill="#000"/>
<text transform="translate(194.5 577.6) scale(0.9600 1)" font-size="9.5" fill="#000" color="#000">11 Feb 2022</text>
<rect x="259" y="566" width="1" height="3" fill="#000"/>
<text transform="translate(258.5 577.6) scale(0.9600 1)" font-size="9.5" fill="#000" color="#000">21 Feb 2022</text>
<rect x="323" y="566" width="1" height="3" fill="#000"/>
<text transform="translate(322.5 577.6) scale(0.9600 1)" font-size="9.5" fill="#000" color="#000">2 Mar 2022</text>
<rect x="387" y="566" width="1" height="3" fill="#000"/>
<text transform="translate(386.5 577.6) scale(0.9600 1)" font-size="9.5" fill="#000" color="#000">11 Mar 2022</text>
<rect x="451" y="566" width="1" height="3" fill="#000"/>
<text transform="translate(450.5 577.6) scale(0.9600 1)" font-size="9.5" fill="#000" color="#000">21 Mar 2022</text>
<rect x="515" y="566" width="1" height="3" fill="#000"/>
<text transform="translate(514.5 577.6) scale(0.9600 1)" font-size="9.5" fill="#000" color="#000">30 Mar 2022</text>
<rect x="579" y="566" width="1" height="3" fill="#000"/>
<text transform="translate(578.5 577.6) scale(0.9600 1)" font-size="9.5" fill="#000" color="#000">8 Apr 2022</text>
<rect x="643" y="566" width="1" height="3" fill="#000"/>
<text transform="translate(642.5 577.6) scale(0.9600 1)" font-size="9.5" fill="#000" color="#000">18 Apr 2022</text>
<rect x="707" y="566" width="1" height="3" fill="#000"/>
<text transform="translate(706.5 577.6) scale(0.9600 1)" font-size="9.5" fill="#000" color="#000">27 Apr 2022</text>
<rect x="771" y="566" width="1" height="3" fill="#000"/>
<text transform="translate(770.5 577.6) scale(0.9600 1)" font-size="9.5" fill="#000" color="#000">6 May 2022</text>
<rect x="835" y="566" width="1" height="3" fill="#000"/>
<text transform="translate(834.5 577.6) scale(0.9600 1)" font-size="9.5" fill="#000" color="#000">16 May 2022</text>
<rect x="899" y="566" width="1" height="3" fill="#000"/>
<text transform="translate(898.5 577.6) scale(0.9600 1)" font-size="9.5" fill="#000" color="#000">25 May 2022</text>
<path d="M6 31h7l-3.5 4z" fill="#000" shape-rendering="geometricPrecision"/>
<text transform="translate(18.2 35.6) scale(0.9874 1)" font-size="9.5" fill="#000" color="#000">EURUSD-,Daily</text>
<text transform="translate(91.2 35.6) scale(0.9474 1)" font-size="9.5" fill="#000" color="#000">1.07320</text>
<text transform="translate(127.25 35.6) scale(0.9474 1)" font-size="9.5" fill="#000" color="#000">1.07639</text>
<text transform="translate(163.3 35.6) scale(0.9474 1)" font-size="9.5" fill="#000" color="#000">1.06961</text>
<text transform="translate(199.35 35.6) scale(0.9474 1)" font-size="9.5" fill="#000" color="#000">1.07311</text>
<text transform="translate(7 504) scale(0.9758 1)" font-size="9.5" fill="#000" color="#000">RSI(14) 58.5048</text>
</svg>
<div id="tabs"><div class="l0"></div><div class="l1"></div><div class="l2"></div><div class="l3"></div><div id="act"></div><span class="tab" style="left:14.3px;transform:scaleX(1.026)">USDX,Weekly</span><span class="tab act" style="left:115.4px;transform:scaleX(1.000)">EURUSD-,Daily</span><span class="tab" style="left:222.2px;transform:scaleX(1.027)">AUDUSD-,Daily</span><span class="tab" style="left:331.2px;transform:scaleX(1.018)">USDCHF-,Daily</span><span class="tab" style="left:438px;transform:scaleX(1.018)">USDCAD-,Daily</span><span class="tab" style="left:547px;transform:scaleX(1.050)">USDCNH-,Daily</span><span class="tab" style="left:659px;transform:scaleX(1.026)">XAUUSD-,H4</span><span class="tab" style="left:754px;transform:scaleX(1.071)">UKOil-,Daily</span><span class="tab" style="left:846px;transform:scaleX(1.051)">DJ30-,Weekly</span><span class="tab" style="left:946px;transform:scaleX(1.054)">UK100-,H1</span><span class="tab" style="left:1029px;transform:scaleX(1.082)">USOil-,Monthly</span><span class="tab" style="left:1137.3px;transform:scaleX(1.028)">HK50-,</span><i class="sep" style="left:320px"></i><i class="sep" style="left:428px"></i><i class="sep" style="left:536px"></i><i class="sep" style="left:648px"></i><i class="sep" style="left:744px"></i><i class="sep" style="left:836px"></i><i class="sep" style="left:936px"></i><i class="sep" style="left:1020px"></i><i class="sep" style="left:1128px"></i>
<div style="position:absolute;left:1176px;top:3px;width:32px;height:19px;background:#f0f0f0"></div>
<div class="arr" style="left:1180.5px;border-right:3.5px solid #a0a0a0"></div>
<div class="arr" style="left:1200px;border-left:3.5px solid #000"></div>
</div>
</body></html>
